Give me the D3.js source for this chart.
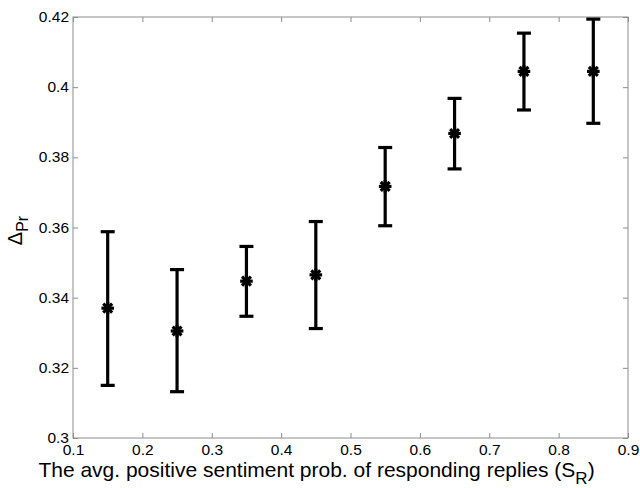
<!DOCTYPE html>
<html>
<head>
<meta charset="utf-8">
<script src="https://cdn.jsdelivr.net/npm/d3@7"></script>
<style>
body { margin: 0; background: #fff; }
text { font-family: "Liberation Sans", Arial, sans-serif; }
</style>
</head>
<body>
<div id="chart"></div>
<script>
const xs = [0.15, 0.25, 0.35, 0.45, 0.55, 0.65, 0.75, 0.85]
const means = [0.337, 0.3305, 0.3447, 0.3465, 0.3717, 0.3868, 0.4045, 0.4045]
const lows = [0.315, 0.3132, 0.3347, 0.3312, 0.3605, 0.3767, 0.3935, 0.3897]
const highs = [0.3588, 0.348, 0.3546, 0.3617, 0.3828, 0.3968, 0.4154, 0.4194]
const xTicks = [0.1, 0.2, 0.3, 0.4, 0.5, 0.6, 0.7, 0.8, 0.9]
const yTicks = [0.3, 0.32, 0.34, 0.36, 0.38, 0.4, 0.42]

const data = xs.map((x, i) => ({ x: x, mean: means[i], lo: lows[i], hi: highs[i] }))

const W = 640, H = 488
const margin = ({ top: 17, right: 12, bottom: 50, left: 73 })
const width = W - margin.left - margin.right
const height = H - margin.top - margin.bottom

const svg = d3.select('#chart')
	.append('svg')
	.attr('width', W)
	.attr('height', H)
	.append('g')
	.attr('transform', `translate(${margin.left},${margin.top})`)

const xScale = d3.scaleLinear().domain([0.1, 0.9]).range([0, width])
const yScale = d3.scaleLinear().domain([0.3, 0.42]).range([height, 0])

const boxColor = '#8c8c8c'

// inward ticks on all four sides, matlab style
function style(g) {
	g.select('.domain').remove()
	g.selectAll('.tick line').attr('stroke', boxColor)
	g.selectAll('.tick text').attr('fill', '#000').attr('font-size', 15.5)
}

svg.append('g')
	.attr('transform', `translate(0,${height})`)
	.call(d3.axisBottom(xScale).tickValues(xTicks).tickSize(-5).tickPadding(3).tickFormat(d3.format('')))
	.call(style)
	.selectAll('.tick text').attr('dy', '0.88em')

svg.append('g')
	.call(d3.axisTop(xScale).tickValues(xTicks).tickSize(-5).tickFormat(''))
	.call(style)

svg.append('g')
	.call(d3.axisLeft(yScale).tickValues(yTicks).tickSize(-5).tickPadding(4).tickFormat(d3.format('')))
	.call(style)
	.selectAll('.tick text').attr('dy', '0.3em')

svg.append('g')
	.attr('transform', `translate(${width},0)`)
	.call(d3.axisRight(yScale).tickValues(yTicks).tickSize(-5).tickFormat(''))
	.call(style)

svg.append('rect')
	.attr('width', width)
	.attr('height', height)
	.attr('fill', 'none')
	.attr('stroke', boxColor)
	.attr('stroke-width', 1)

// error bars
const bars = svg.append('g')
	.attr('stroke', '#000')
	.attr('stroke-width', 3.2)
	.selectAll('g')
	.data(data)
	.join('g')
	.attr('transform', d => `translate(${xScale(d.x)},0)`)

bars.append('line')
	.attr('y1', d => yScale(d.lo))
	.attr('y2', d => yScale(d.hi))

bars.append('line')
	.attr('x1', -7).attr('x2', 7)
	.attr('y1', d => yScale(d.lo)).attr('y2', d => yScale(d.lo))

bars.append('line')
	.attr('x1', -7).attr('x2', 7)
	.attr('y1', d => yScale(d.hi)).attr('y2', d => yScale(d.hi))

// asterisk markers
const r = 6.3
const marks = svg.append('g')
	.selectAll('g')
	.data(data)
	.join('g')
	.attr('transform', d => `translate(${xScale(d.x)},${yScale(d.mean)})`)
	.attr('stroke', '#000')
	.attr('stroke-width', 3.2)

;[0, 45, 90, 135].forEach(a => {
	const rad = a * Math.PI / 180
	marks.append('line')
		.attr('x1', -r * Math.cos(rad)).attr('y1', -r * Math.sin(rad))
		.attr('x2', r * Math.cos(rad)).attr('y2', r * Math.sin(rad))
})

// axis labels
const xl = svg.append('text')
	.attr('x', width / 2 - 34)
	.attr('y', height + 39)
	.attr('text-anchor', 'middle')
	.attr('font-size', 21)
	.attr('fill', '#000')
xl.append('tspan').text('The avg. positive sentiment prob. of responding replies (S')
xl.append('tspan').attr('font-size', 17).attr('dy', 7).text('R')
xl.append('tspan').attr('dy', -7).text(')')

const yl = svg.append('text')
	.attr('transform', `translate(-51,${height / 2 + 3}) rotate(-90)`)
	.attr('text-anchor', 'middle')
	.attr('font-size', 20)
	.attr('fill', '#000')
yl.append('tspan').text('\u0394')
yl.append('tspan').attr('font-size', 16).attr('dy', 6).text('Pr')
</script>
</body>
</html>
